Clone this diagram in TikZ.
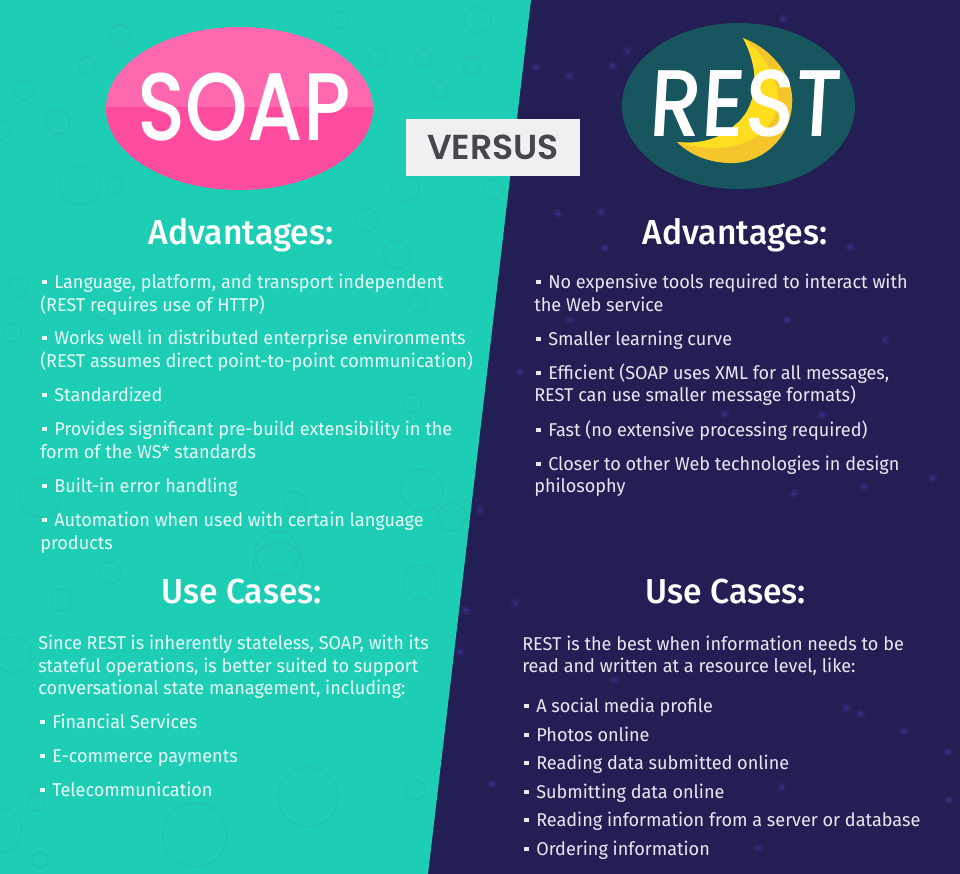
\documentclass[tikz,border=0pt]{standalone}
\usepackage{fontspec}
\setmainfont[FakeStretch=0.975]{Fira Sans}
\newfontfamily\headfont[FakeStretch=0.97]{Fira Sans Medium}
\newfontfamily\soapfont[FakeStretch=0.83]{Poppins Medium}
\newfontfamily\restfont[FakeStretch=0.87,FakeSlant=0.06]{Poppins Medium}
\newfontfamily\versusfont{Poppins SemiBold}
\definecolor{tealbg}{HTML}{1DCEB5}
\definecolor{tealring}{HTML}{22C6AF}
\definecolor{nightbg}{HTML}{231F55}
\definecolor{starblue}{HTML}{37338F}
\definecolor{pinkhi}{HTML}{FF67AE}
\definecolor{pinklo}{HTML}{FF4C9F}
\definecolor{restoval}{HTML}{17565F}
\definecolor{moondark}{HTML}{F5C62C}
\definecolor{moonlight}{HTML}{FFDD1F}
\definecolor{versusbg}{HTML}{F0F0F3}
\definecolor{versustext}{HTML}{47474B}
\definecolor{soaptext}{HTML}{E8FBF8}
\definecolor{resttext}{HTML}{E8E8F2}
\newcommand{\blt}{\makebox[10.5pt][l]{\hspace{1.4pt}\raisebox{2.8pt}{\rule{3.4pt}{3.4pt}}}}
\tikzset{
  bubble/.style={draw=tealring, line width=1.5pt},
  star/.style={fill=starblue},
  heading/.style={text=white, anchor=base, inner sep=0pt, font=\headfont\fontsize{26}{30}\selectfont},
  soapline/.style={text=soaptext, anchor=base west, inner sep=0pt, font=\fontsize{13.9}{16}\selectfont},
  restline/.style={text=resttext, anchor=base west, inner sep=0pt, font=\fontsize{13.9}{16}\selectfont},
}
\begin{document}
\begin{tikzpicture}[x=0.75pt, y=-0.75pt]
    \useasboundingbox (0,0) rectangle (960,874);

    % Background
    \fill[nightbg] (0,0) rectangle (960,874);
    \fill[tealbg] (0,0) -- (531,0) -- (428,874) -- (0,874) -- cycle;

    % Bubbles on the left side
    \begin{scope}
        \clip (0,0) -- (531,0) -- (428,874) -- (0,874) -- cycle;
        \foreach \x/\y/\r in {308/797/30, 195/835/32, 13/655/18, 420/582/17, 61/600/11, 0/830/22,
            415/790/10, 37/802/9, 278/567/25, 110/573/11, 422/490/21, 40/497/20, 277/553/22,
            397/255/14, 452/517/14, 295/503/11, 367/220/11, 18/287/10, 13/333/9, 417/303/9,
            413/403/9, 103/310/9, 478/20/13, 423/58/8, 472/65/9, 440/90/8, 405/188/14,
            493/190/10, 58/122/12, 24/90/10, 0/130/10, 87/65/8, 120/35/10, 378/57/9,
            340/20/9, 80/185/20, 115/185/8, 40/860/8}
            \draw[bubble] (\x,\y) circle (\r);
    \end{scope}

    % Stars on the right side
    \foreach \x/\y in {783/19, 613/66, 627/51, 536/67, 570/76, 601/212, 558/214, 787/320,
        885/340, 822/415, 725/414, 933/478, 864/487, 794/494, 605/248, 850/247, 520/372,
        570/320, 948/752, 846/708, 861/714, 904/731, 515/603, 782/787, 949/800, 492/784,
        758/848, 614/680, 466/610, 460/652, 480/510} {
        \fill[star, opacity=0.35] (\x,\y) circle (4.5);
        \fill[star] (\x,\y) circle (1.6);
    }

    % SOAP badge
    \begin{scope}
        \clip (239.5,108.5) ellipse (133.5 and 81.5);
        \fill[pinkhi] (100,20) rectangle (380,107);
        \fill[pinklo] (100,107) rectangle (380,195);
    \end{scope}
    \node[text=white, anchor=base, inner sep=0pt, font=\soapfont\fontsize{72}{72}\selectfont] (soap) at (244,140) {SOAP};

    % REST badge
    \fill[restoval] (738.5,106) ellipse (116.5 and 83);
    \fill[moondark] (743,38) .. controls (775,50) and (795,80) .. (792,105)
        .. controls (790,140) and (760,165) .. (728,163)
        .. controls (705,162) and (688,153) .. (677,142)
        .. controls (700,145) and (722,138) .. (735,125)
        .. controls (755,110) and (763,75) .. (743,38) -- cycle;
    \fill[moonlight] (743,38) .. controls (765,55) and (780,80) .. (778,105)
        .. controls (772,135) and (735,160) .. (677,142)
        .. controls (700,145) and (722,138) .. (735,125)
        .. controls (755,110) and (763,75) .. (743,38) -- cycle;
    \node[text=white, anchor=base, inner sep=0pt, font=\restfont\fontsize{71}{71}\selectfont] (rest) at (744,137) {REST};

    % Versus label
    \fill[versusbg] (406,119) rectangle (580,176);
    \node[text=versustext, inner sep=0pt, anchor=base, font=\versusfont\fontsize{26}{26}\selectfont] (versus) at (493,159) {VERSUS};

    % Headings
    \node[heading] (soapadv) at (241,244) {Advantages:};
    \node[heading] (restadv) at (735,244) {Advantages:};
    \node[heading] (soapuse) at (241.5,603) {Use Cases:};
    \node[heading] (restuse) at (726,603) {Use Cases:};

    % SOAP advantages
    \foreach \i/\x/\y/\label in {
        1/40/288/{\blt Language, platform, and transport independent},
        2/40/311/{(REST requires use of HTTP)},
        3/40/344/{\blt Works well in distributed enterprise environments},
        4/40/367/{(REST assumes direct point-to-point communication)},
        5/40/401/{\blt Standardized},
        6/40/435/{\blt Provides significant pre-build extensibility in the},
        7/40/458/{form of the WS* standards},
        8/40/492/{\blt Built-in error handling},
        9/40/526/{\blt Automation when used with certain language},
        10/40/549/{products}} {
        \node[soapline] (soapadv\i) at (\x,\y) {\label};
    }

    % SOAP use cases
    \foreach \i/\x/\y/\label in {
        1/38/649/{Since REST is inherently stateless, SOAP, with its},
        2/38/672/{stateful operations, is better suited to support},
        3/38/694/{conversational state management, including:},
        4/38/728/{\blt Financial Services},
        5/38/762/{\blt E-commerce payments},
        6/38/796/{\blt Telecommunication}} {
        \node[soapline] (soapuse\i) at (\x,\y) {\label};
    }

    % REST advantages
    \foreach \i/\x/\y/\label in {
        1/534/288/{\blt No expensive tools required to interact with},
        2/534/311/{the Web service},
        3/534/345/{\blt Smaller learning curve},
        4/534/379/{\blt Efficient (SOAP uses XML for all messages,},
        5/534/401/{REST can use smaller message formats)},
        6/534/436/{\blt Fast (no extensive processing required)},
        7/534/470/{\blt Closer to other Web technologies in design},
        8/534/492/{philosophy}} {
        \node[restline] (restadv\i) at (\x,\y) {\label};
    }

    % REST use cases
    \foreach \i/\x/\y/\label in {
        1/522/650/{REST is the best when information needs to be},
        2/522/672/{read and written at a resource level, like:},
        3/522/712/{\blt A social media profile},
        4/522/741/{\blt Photos online},
        5/522/769/{\blt Reading data submitted online},
        6/522/798/{\blt Submitting data online},
        7/522/826/{\blt Reading information from a server or database},
        8/522/855/{\blt Ordering information}} {
        \node[restline] (restuse\i) at (\x,\y) {\label};
    }
\end{tikzpicture}
\end{document}
